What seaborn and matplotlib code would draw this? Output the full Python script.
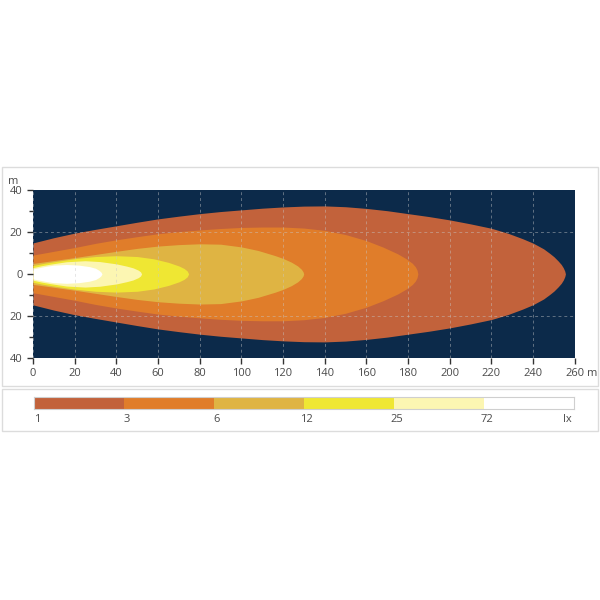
import numpy as np
import matplotlib.pyplot as plt
import seaborn as sns
from matplotlib.colors import ListedColormap
from matplotlib.patches import Rectangle

# isolux outlines: distance (m) and half width (m)
dist_1 = [0, 10, 20, 30, 40, 50, 60, 70, 80, 90, 100, 110, 120, 130, 140, 150, 160, 170,
          180, 190, 200, 210, 220, 228, 235, 240, 245, 248, 250, 252, 253.5, 254.5, 255.2, 255.5]
half_1 = [14.8, 17.3, 19.5, 21.3, 23, 24.7, 26.3, 27.6, 28.8, 29.8, 30.6, 31.4, 32, 32.4,
          32.5, 32.1, 31.3, 30.2, 28.8, 27.4, 25.8, 23.9, 21.8, 19.4, 16.8, 14.7, 12,
          9.8, 8.2, 6.2, 4.5, 2.9, 1.3, 0]

dist_3 = [0, 10, 20, 30, 40, 50, 60, 70, 80, 90, 100, 110, 120, 130, 140, 150, 160, 168,
          175, 179, 182, 183.5, 184.3, 184.7]
half_3 = [9, 10.8, 12.6, 14.6, 16.3, 17.8, 19.2, 20.2, 21, 21.7, 22.2, 22.4, 22.4, 21.9,
          20.8, 18.8, 15.9, 12.8, 9.6, 7.3, 5.1, 3.4, 1.8, 0]

dist_6 = [0, 10, 20, 30, 40, 50, 60, 70, 80, 90, 100, 108, 116, 120, 124, 127, 128.8,
          129.6, 129.9]
half_6 = [5, 6.4, 7.8, 9.3, 10.8, 12.2, 13.3, 14, 14.4, 14.2, 12.9, 11.2, 8.8, 7.4, 5.6,
          3.8, 2.2, 1, 0]

dist_12 = [0, 5, 10, 20, 30, 40, 50, 58, 65, 70, 72.5, 74, 74.7]
half_12 = [4, 5, 5.8, 7.3, 8.3, 8.7, 8.3, 7.2, 5.5, 3.8, 2.6, 1.4, 0]

dist_25 = [0, 4, 8, 16, 25, 32, 40, 45, 48, 50.5, 51.6, 52.1]
half_25 = [3, 3.9, 4.6, 5.8, 6.3, 5.9, 4.8, 3.7, 2.9, 1.8, 1, 0]

dist_72 = [0, 3, 6, 10, 16, 22, 27, 30, 31.7, 32.6, 33.1]
half_72 = [2.4, 3, 3.6, 4.2, 4.5, 4.2, 3.5, 2.7, 1.7, 0.9, 0]

lux_levels = ["1", "3", "6", "12", "25", "72"]
lux_colors = ["#c2623b", "#e07d2a", "#dfb443", "#efe733", "#fcf6b2", "#ffffff"]
x_ticks = [0, 20, 40, 60, 80, 100, 120, 140, 160, 180, 200, 220, 240, 260]
y_ticks = [-40, -20, 0, 20, 40]
grid_y = [-20, 20]

outlines = [(dist_1, half_1), (dist_3, half_3), (dist_6, half_6),
            (dist_12, half_12), (dist_25, half_25), (dist_72, half_72)]

sns.set_theme(style="white")
plt.rcParams['font.family'] = ['Open Sans', 'DejaVu Sans']
txt = "#4a4a4a"

fig = plt.figure(figsize=(6, 6), dpi=100)

# panel frames
fig.patches.append(Rectangle((0.003, 0.357), 0.994, 0.365, transform=fig.transFigure,
                             fill=False, edgecolor="#dcdcdc", lw=1))
fig.patches.append(Rectangle((0.003, 0.282), 0.994, 0.070, transform=fig.transFigure,
                             fill=False, edgecolor="#dcdcdc", lw=1))

ax = fig.add_axes([0.055, 0.404, 0.903, 0.279])
ax.set_facecolor("#0c2a4a")
for (d, h), c in zip(outlines, lux_colors):
    d = np.array(d)
    h = np.array(h)
    ax.fill_between(d, -h, h, color=c, lw=0, zorder=2)

ax.set_xlim(0, 260)
ax.set_ylim(-40, 40)
ax.set_xticks(x_ticks)
ax.set_xticklabels([str(v) for v in x_ticks])
ax.set_yticks(y_ticks)
ax.set_yticklabels([str(abs(v)) for v in y_ticks])
ax.set_yticks(np.arange(-30, 40, 20), minor=True)
ax.tick_params(axis='both', which='both', direction='out', colors="#333333",
               labelcolor=txt, labelsize=8, length=4, width=1)
ax.tick_params(axis='both', which='major', bottom=True, left=True)
ax.tick_params(axis='y', which='minor', left=True, length=3)
for s in ax.spines.values():
    s.set_visible(False)

ax.grid(axis='x', color="#c8c8c8", ls=(0, (3, 3)), lw=0.7, alpha=0.45, zorder=3)
ax.set_axisbelow(False)
for gy in grid_y:
    ax.axhline(gy, color="#c8c8c8", ls=(0, (3, 3)), lw=0.7, alpha=0.45, zorder=3)

fig.text(0.013, 0.698, "m", fontsize=8, color=txt, ha='left', va='center')
fig.text(0.978, 0.377, "m", fontsize=8, color=txt, ha='left', va='center')

# legend strip
lax = fig.add_axes([0.057, 0.319, 0.900, 0.020])
sns.heatmap(np.arange(6).reshape(1, 6), cmap=ListedColormap(lux_colors), cbar=False,
            ax=lax, xticklabels=False, yticklabels=False, linewidths=0)
for s in lax.spines.values():
    s.set_visible(True)
    s.set_color("#cfcfcf")
    s.set_linewidth(0.8)
for i, lab in enumerate(lux_levels):
    lax.text(i + 0.03, 1.95, lab, fontsize=8, color=txt, ha='center', va='center')
lax.text(5.97, 1.95, "lx", fontsize=8, color=txt, ha='right', va='center')

fig.savefig("out.png", dpi=100, facecolor="white")
